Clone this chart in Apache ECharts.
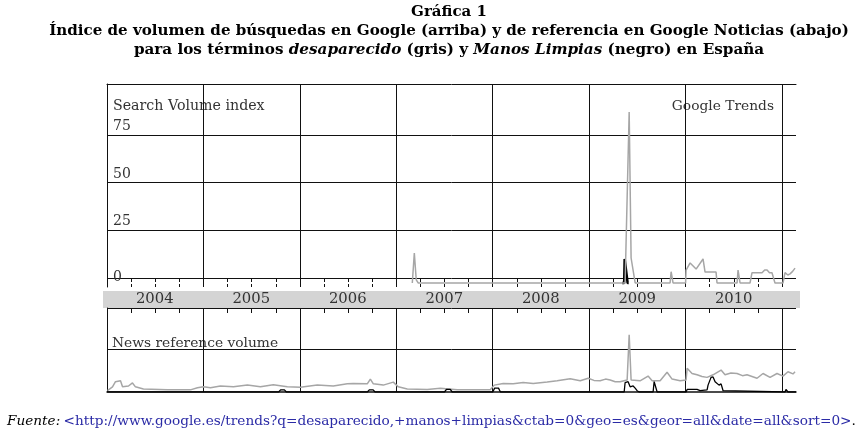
<!DOCTYPE html>
<html>
<head>
<meta charset="utf-8">
<script src="https://cdn.jsdelivr.net/npm/echarts@6/dist/echarts.min.js"></script>
<style>html,body{margin:0;padding:0;background:#fff}#c{width:863px;height:438px}</style>
</head>
<body>
<div id="c"></div>
<script>
// ---------- data ----------
const yearLabels = ['2004','2005','2006','2007','2008','2009','2010'];
const yearMid = [2004.5,2005.5,2006.5,2007.5,2008.5,2009.5,2010.5];
const yTickValues = [0,25,50,75];

// Search volume index (top) - desaparecido (gray)
const searchGrayX = [2007.166,2007.187,2007.207,2007.228,2009.373,2009.415,2009.435,2009.477,2009.839,2009.850,2009.870,2010.0,2010.005,2010.047,2010.109,2010.181,2010.202,2010.316,2010.326,2010.534,2010.544,2010.565,2010.668,2010.689,2010.793,2010.82,2010.845,2010.87,2010.896,2010.927,2011.010,2011.031,2011.06,2011.083,2011.11,2011.135];
const searchGrayY = [-2.6,13.1,-1.0,-2.6,-2.6,87.0,10.5,-2.6,-2.6,3.3,-2.6,-2.6,4.2,7.9,4.7,10.0,3.1,3.1,-2.6,-2.6,4.2,-2.6,-2.6,2.8,2.8,4.2,4.2,2.8,2.8,-2.6,-2.6,2.8,1.6,2.2,3.5,5.2];
// Search volume index (top) - Manos Limpias (black)
const searchBlackX = [2009.342,2009.363,2009.368,2009.383,2009.399,2009.41];
const searchBlackY = [-2.6,-2.6,10.0,10.0,-2.6,-2.6];

// News reference volume (bottom) - desaparecido (gray)
const newsGrayX = [2004.005,2004.057,2004.088,2004.140,2004.161,2004.181,2004.223,2004.264,2004.295,2004.378,2004.627,2004.865,2004.938,2005.0,2005.073,2005.176,2005.311,2005.456,2005.591,2005.725,2005.870,2006.005,2006.181,2006.347,2006.492,2006.554,2006.699,2006.731,2006.762,2006.865,2006.969,2007.021,2007.114,2007.321,2007.456,2007.632,2007.798,2007.974,2008.016,2008.109,2008.212,2008.316,2008.420,2008.565,2008.668,2008.803,2008.907,2008.990,2009.05,2009.114,2009.17,2009.218,2009.27,2009.321,2009.394,2009.415,2009.435,2009.528,2009.611,2009.653,2009.736,2009.808,2009.860,2009.943,2010.005,2010.016,2010.067,2010.119,2010.17,2010.223,2010.285,2010.368,2010.409,2010.47,2010.534,2010.59,2010.637,2010.741,2010.803,2010.876,2010.948,2011.010,2011.062,2011.114,2011.135];
const newsGrayY = [0.03,0.12,0.24,0.26,0.12,0.12,0.14,0.21,0.12,0.07,0.05,0.05,0.10,0.12,0.10,0.14,0.12,0.16,0.12,0.17,0.12,0.11,0.16,0.14,0.19,0.20,0.19,0.30,0.19,0.16,0.23,0.12,0.07,0.06,0.09,0.05,0.05,0.05,0.16,0.20,0.19,0.22,0.20,0.23,0.26,0.31,0.26,0.32,0.27,0.26,0.30,0.28,0.24,0.24,0.28,1.33,0.28,0.26,0.37,0.26,0.26,0.46,0.30,0.26,0.28,0.55,0.43,0.40,0.36,0.34,0.40,0.51,0.40,0.44,0.43,0.38,0.40,0.32,0.43,0.34,0.43,0.37,0.47,0.42,0.47];
// News reference volume (bottom) - Manos Limpias (black)
const newsBlackX = [2004.005,2005.78,2005.80,2005.84,2005.86,2006.70,2006.72,2006.76,2006.78,2007.50,2007.52,2007.56,2007.58,2008.00,2008.02,2008.06,2008.08,2009.363,2009.373,2009.404,2009.425,2009.456,2009.477,2009.497,2009.518,2009.663,2009.674,2009.694,2009.705,2010.005,2010.016,2010.119,2010.150,2010.223,2010.233,2010.264,2010.285,2010.306,2010.326,2010.347,2010.368,2010.389,2010.409,2011.031,2011.041,2011.062,2011.145];
const newsBlackY = [0,0,0.05,0.05,0,0,0.05,0.05,0,0,0.06,0.06,0,0,0.09,0.09,0,0,0.22,0.24,0.12,0.14,0.09,0.03,0,0,0.24,0.24,0,0,0.06,0.06,0.03,0.05,0.16,0.34,0.35,0.24,0.28,0.16,0.19,0.03,0,0,0.06,0,0];

// ---------- helpers ----------
const zip = (xs, ys) => xs.map((x, i) => [x, ys[i]]);
const X_MIN = 2004, X_MAX = 2011.145;
const quarterTicks = [];
yearLabels.forEach(y => { const v = +y; quarterTicks.push(v + 0.25, v + 0.5, v + 0.75); });

const SERIF = '"DejaVu Serif", serif';
const black = '#111';
const grayLine = '#a6a6a6';

const chart = echarts.init(document.getElementById('c'), null, {renderer: 'canvas'});
const hidden = {axisLine:{show:false}, axisTick:{show:false}, axisLabel:{show:false}, splitLine:{show:false}};

const option = {
  animation: false,
  backgroundColor: '#fff',
  grid: [
    {left: 107, top: 84, width: 689, height: 203},
    {left: 103, top: 291, width: 697, height: 17, show: true, backgroundColor: '#d4d4d4', borderWidth: 0},
    {left: 107, top: 308, width: 689, height: 84}
  ],
  xAxis: [
    {gridIndex: 0, type: 'value', min: X_MIN, max: X_MAX, interval: 1, position: 'bottom',
     axisLine: {show: false, onZero: false}, axisTick: {show: false}, axisLabel: {show: false},
     splitLine: {show: true, showMaxLine: false, showMinLine: false, lineStyle: {color: black, width: 1}}},
    {gridIndex: 0, type: 'value', min: X_MIN, max: X_MAX, position: 'bottom',
     axisLine: {show: false, onZero: false}, axisLabel: {show: false}, splitLine: {show: false},
     axisTick: {show: true, inside: true, length: 8, customValues: quarterTicks, lineStyle: {color: black, type: [3, 2]}}},
    {gridIndex: 0, type: 'value', min: X_MIN, max: X_MAX, position: 'top',
     axisLine: {show: true, onZero: false, lineStyle: {color: black}}, axisTick: {show: false}, axisLabel: {show: false}, splitLine: {show: false}},
    {gridIndex: 1, type: 'value', min: 2003.964, max: 2011.187, position: 'bottom',
     axisLine: {show: false, onZero: false}, axisTick: {show: false}, splitLine: {show: false},
     axisLabel: {show: true, inside: true, customValues: yearMid, margin: 8.5, verticalAlign: 'middle',
       formatter: v => yearLabels[yearMid.indexOf(v)] || '', color: '#333', fontFamily: SERIF, fontSize: 14.8}},
    {gridIndex: 2, type: 'value', min: X_MIN, max: X_MAX, interval: 1, position: 'bottom',
     axisLine: {show: true, onZero: false, lineStyle: {color: black, width: 1.5}}, axisTick: {show: false}, axisLabel: {show: false},
     splitLine: {show: true, showMaxLine: false, showMinLine: false, lineStyle: {color: black, width: 1}}},
    {gridIndex: 2, type: 'value', min: X_MIN, max: X_MAX, position: 'top',
     axisLine: {show: false, onZero: false}, axisLabel: {show: false}, splitLine: {show: false},
     axisTick: {show: true, inside: true, length: 5, customValues: quarterTicks, lineStyle: {color: black}}}
  ],
  yAxis: [
    {gridIndex: 0, type: 'value', min: -4.7, max: 101.7,
     axisLine: {show: true, onZero: false, lineStyle: {color: black}},
     axisTick: {show: false, customValues: yTickValues},
     axisLabel: {show: true, inside: true, customValues: yTickValues, align: 'left', verticalAlign: 'middle', margin: 6,
       formatter: v => v === 0 ? '{z|0}' : '{a|' + v + '}',
       rich: {a: {padding: [0, 0, 17, 0], color: '#333', fontFamily: SERIF, fontSize: 14},
              z: {padding: [0, 0, 2, 0], color: '#333', fontFamily: SERIF, fontSize: 14}},
       color: '#333', fontFamily: SERIF, fontSize: 14},
     splitLine: {show: true, lineStyle: {color: black, width: 1}}},
    Object.assign({gridIndex: 1, type: 'value', min: 0, max: 1}, hidden),
    {gridIndex: 2, type: 'value', min: 0, max: 1.953, interval: 1,
     axisLine: {show: true, onZero: false, lineStyle: {color: black}}, axisTick: {show: false}, axisLabel: {show: false},
     splitLine: {show: true, showMinLine: false, lineStyle: {color: black, width: 1}}}
  ],
  series: [
    {type: 'line', xAxisIndex: 0, yAxisIndex: 0, data: zip(searchBlackX, searchBlackY), symbol: 'none',
     lineStyle: {color: '#000', width: 2.5}, z: 3},
    {type: 'line', xAxisIndex: 0, yAxisIndex: 0, data: zip(searchGrayX, searchGrayY), symbol: 'none',
     lineStyle: {color: grayLine, width: 1.5}, z: 4},
    {type: 'line', xAxisIndex: 4, yAxisIndex: 2, data: zip(newsGrayX, newsGrayY), symbol: 'none',
     lineStyle: {color: grayLine, width: 1.5}, z: 3},
    {type: 'line', xAxisIndex: 4, yAxisIndex: 2, data: zip(newsBlackX, newsBlackY), symbol: 'none',
     lineStyle: {color: '#000', width: 1.3}, z: 4}
  ],
  graphic: [
    {type: 'text', x: 449, y: 12, style: {text: 'Gráfica 1', font: 'bold 15px ' + SERIF, fill: '#000', align: 'center', verticalAlign: 'middle'}},
    {type: 'text', x: 449, y: 31, style: {text: 'Índice de volumen de búsquedas en Google (arriba) y de referencia en Google Noticias (abajo)', font: 'bold 15.1px ' + SERIF, fill: '#000', align: 'center', verticalAlign: 'middle'}},
    {type: 'text', x: 449, y: 50, style: {
      text: '{b|para los términos }{i|desaparecido}{b| (gris) y }{i|Manos Limpias}{b| (negro) en España}',
      align: 'center', verticalAlign: 'middle', fill: '#000',
      rich: {b: {font: 'bold 15.2px ' + SERIF, fill: '#000'}, i: {font: 'italic bold 15.2px ' + SERIF, fill: '#000'}}}},
    {type: 'text', x: 113, y: 106.5, style: {text: 'Search Volume index', font: '14.2px ' + SERIF, fill: '#333', align: 'left', verticalAlign: 'middle'}},
    {type: 'text', x: 774, y: 106.5, style: {text: 'Google Trends', font: '13.8px ' + SERIF, fill: '#333', align: 'right', verticalAlign: 'middle'}},
    {type: 'text', x: 112, y: 343, style: {text: 'News reference volume', font: '13.8px ' + SERIF, fill: '#333', align: 'left', verticalAlign: 'middle'}},
    {type: 'text', x: 7, y: 421, style: {
      text: '{i|Fuente:} {u|<http://www.google.es/trends?q=desaparecido,+manos+limpias&ctab=0&geo=es&geor=all&date=all&sort=0>}{k|.}',
      align: 'left', verticalAlign: 'middle',
      rich: {i: {font: 'italic 13.65px ' + SERIF, fill: '#000'}, u: {font: '13.65px ' + SERIF, fill: '#2b2ba6'}, k: {font: '13.65px ' + SERIF, fill: '#000'}}}}
  ]
};
chart.setOption(option);
</script>
</body>
</html>
